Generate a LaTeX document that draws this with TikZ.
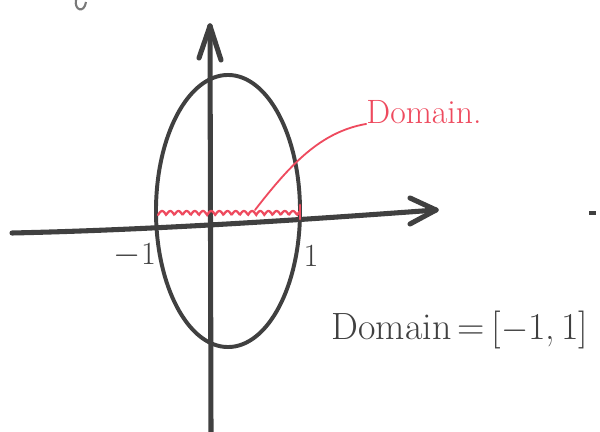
\documentclass[tikz,border=0pt]{standalone}
\usetikzlibrary{arrows.meta,shapes.geometric}
\begin{document}
\begin{tikzpicture}[x=0.025cm,y=-0.025cm,
  pen/.style={draw=ink,line width=3.6pt,line cap=round,line join=round},
  redpen/.style={draw=redink,line width=1.3pt,line cap=round},
  lbl/.style={text=ink,font=\fontsize{23}{26}\selectfont,inner sep=0pt}]
\definecolor{ink}{HTML}{404040}
\definecolor{redink}{HTML}{EE4A5E}
\useasboundingbox (0,0) rectangle (600,432);
% partial letter at the top
\draw[draw=ink!70,line width=1.5pt] (76,0) .. controls (74,10) and (84,14) .. (86,2);
% axes
\coordinate (ytop) at (210,26);
\coordinate (ybot) at (211,432);
\coordinate (xl) at (12,233);
\coordinate (xr) at (436,210);
\draw[pen] (ybot) -- (ytop);
\draw[pen] (ytop) -- (199,58);
\draw[pen] (ytop) -- (221,60);
\draw[pen] (xl) .. controls (150,230) and (300,220) .. (xr);
\draw[pen] (xr) -- (410,198);
\draw[pen] (xr) -- (410,224);
% ellipse
\node[draw=ink,line width=2.8pt,ellipse,minimum width=3.6cm,minimum height=6.8cm,inner sep=0pt] (ell) at (228,211) {};
% red domain hatch
\draw[redpen,line width=1.6pt] plot[domain=158:300,samples=160] (\x,{215-4*abs(sin((\x-158)*22))});
\draw[redpen,line width=2pt] (300,205) -- (300,219);
% labels
\node[text=redink,font=\fontsize{24}{28}\selectfont,inner sep=0pt] (dl) at (424,112) {Domain.};
\coordinate (dtip) at (255,210);
\draw[redpen] (dtip) .. controls (290,165) and (320,132) .. (dl.south west);
\node[lbl] (m1) at (135,255) {$-$1};
\node[lbl] (p1) at (311,256) {1};
\node[text=ink,font=\fontsize{27}{30}\selectfont,inner sep=0pt] (eq) at (460,330) {Domain\,=\,[$-$1,\,1]};
\draw[draw=ink,line width=3pt] (589,213) -- (596,213);
\end{tikzpicture}
\end{document}
